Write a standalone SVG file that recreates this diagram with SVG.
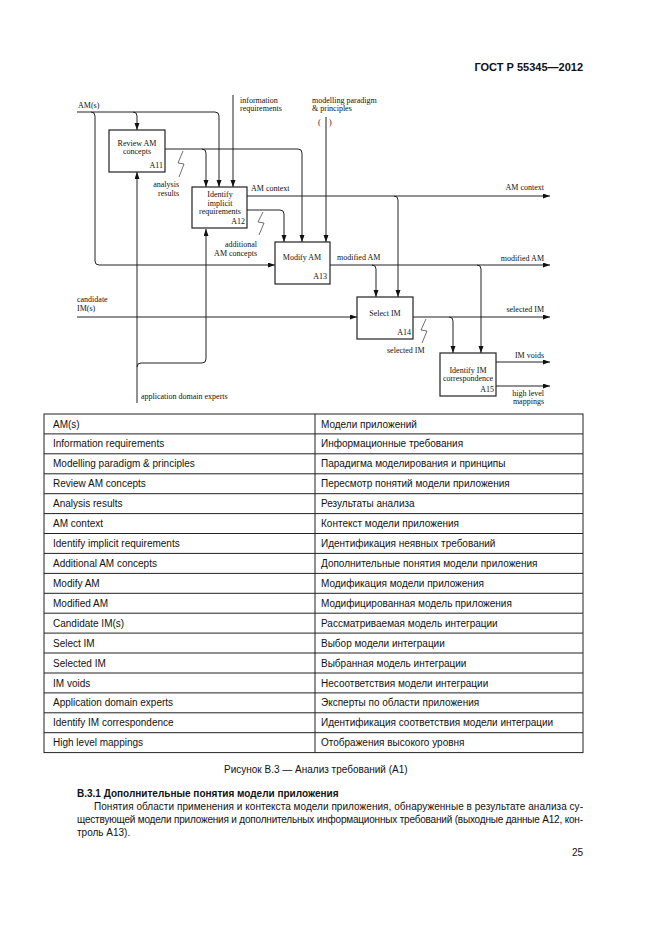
<svg xmlns="http://www.w3.org/2000/svg" width="661" height="935" viewBox="0 0 661 935">
<style>
.bg{fill:#fff}
.box{fill:#fff;stroke:#222;stroke-width:1.2}
.ln{fill:none;stroke:#222;stroke-width:1}
.sq{fill:none;stroke:#333;stroke-width:0.7}
.d{font-family:"Liberation Serif","Times New Roman",serif;font-size:8px;fill:#111}
.c{text-anchor:middle}
.e{text-anchor:end}
.t{font-family:"Liberation Sans",Arial,sans-serif;font-size:10px;fill:#111}
.tb{font-family:"Liberation Sans",Arial,sans-serif;font-size:10px;font-weight:bold;fill:#111}
.grid{stroke:#222;stroke-width:1;fill:none}
</style>
<defs>
<marker id="ar" markerUnits="userSpaceOnUse" markerWidth="8" markerHeight="6" refX="7" refY="2.5" orient="auto">
<path d="M0,0 L7,2.5 L0,5 z" fill="#111"/>
</marker>
</defs>
<rect class="bg" x="0" y="0" width="661" height="935"/>
<text class="tb e" x="583" y="71" style="font-size:11px">ГОСТ Р 55345—2012</text>

<g id="connectors">
<path class="ln" d="M77,112 H215 Q219,112 219,116 V187" marker-end="url(#ar)"/>
<path class="ln" d="M91,112 Q95,112 95,116 V261 Q95,265 99,265 H275" marker-end="url(#ar)"/>
<path class="ln" d="M133,112 Q137,112 137,116 V130" marker-end="url(#ar)"/>
<path class="ln" d="M165,149 H298 Q302,149 302,153 V242" marker-end="url(#ar)"/>
<path class="ln" d="M202,149 Q206,149 206,153 V187" marker-end="url(#ar)"/>
<polyline class="sq" points="183,151 178,163 184,164 179,177"/>
<path class="ln" d="M233,95 V187" marker-end="url(#ar)"/>
<path class="ln" d="M326,117 V242" marker-end="url(#ar)"/>
<path class="ln" d="M247,196 H550" marker-end="url(#ar)"/>
<path class="ln" d="M394,196 Q398,196 398,200 V297" marker-end="url(#ar)"/>
<path class="ln" d="M247,210 H280 Q284,210 284,214 V242" marker-end="url(#ar)"/>
<polyline class="sq" points="263,212 258,222 264,223 259,235"/>
<path class="ln" d="M330,265 H550" marker-end="url(#ar)"/>
<path class="ln" d="M372,265 Q376,265 376,269 V297" marker-end="url(#ar)"/>
<path class="ln" d="M477,265 Q481,265 481,269 V353" marker-end="url(#ar)"/>
<path class="ln" d="M77,317 H357" marker-end="url(#ar)"/>
<path class="ln" d="M413,317 H550" marker-end="url(#ar)"/>
<path class="ln" d="M449,317 Q453,317 453,321 V353" marker-end="url(#ar)"/>
<polyline class="sq" points="426,319 421,330 427,331 422,343"/>
<path class="ln" d="M496,362 H550" marker-end="url(#ar)"/>
<path class="ln" d="M496,386 H550" marker-end="url(#ar)"/>
<path class="ln" d="M137,403 V172" marker-end="url(#ar)"/>
<path class="ln" d="M137,367 Q137,363 141,363 H202 Q206,363 206,359 V229" marker-end="url(#ar)"/>
</g>

<g id="labels">
<text class="d" x="78" y="108">AM(s)</text>
<text class="d" x="240" y="103">information</text>
<text class="d" x="240" y="111">requirements</text>
<text class="d" x="312" y="103">modelling paradigm</text>
<text class="d" x="312" y="111">&amp; principles</text>
<text class="d" x="318" y="125">(</text>
<text class="d" x="329" y="125">)</text>
<text class="d e" x="179" y="187">analysis</text>
<text class="d e" x="179" y="196">results</text>
<text class="d" x="251" y="191">AM context</text>
<text class="d e" x="257" y="247">additional</text>
<text class="d e" x="257" y="256">AM concepts</text>
<text class="d" x="337" y="260">modified AM</text>
<text class="d e" x="544" y="190">AM context</text>
<text class="d e" x="544" y="261">modified AM</text>
<text class="d" x="77" y="302">candidate</text>
<text class="d" x="77" y="311">IM(s)</text>
<text class="d e" x="544" y="312">selected IM</text>
<text class="d" x="387" y="353">selected IM</text>
<text class="d e" x="544" y="358">IM voids</text>
<text class="d e" x="544" y="396">high level</text>
<text class="d e" x="544" y="404">mappings</text>
<text class="d" x="141" y="399">application domain experts</text>
</g>

<g id="A11">
<rect class="box" x="109" y="130" width="56" height="42"/>
<text class="d c" x="137" y="146">Review AM</text>
<text class="d c" x="137" y="154">concepts</text>
<text class="d e" x="163" y="168">A11</text>
</g>
<g id="A12">
<rect class="box" x="192" y="187" width="55" height="41"/>
<text class="d c" x="220" y="197">Identify</text>
<text class="d c" x="220" y="206">implicit</text>
<text class="d c" x="220" y="214">requirements</text>
<text class="d e" x="245" y="224">A12</text>
</g>
<g id="A13">
<rect class="box" x="275" y="242" width="55" height="42"/>
<text class="d c" x="302" y="260">Modify AM</text>
<text class="d e" x="327" y="279">A13</text>
</g>
<g id="A14">
<rect class="box" x="357" y="297" width="56" height="42"/>
<text class="d c" x="385" y="316">Select IM</text>
<text class="d e" x="411" y="335">A14</text>
</g>
<g id="A15">
<rect class="box" x="440" y="353" width="56" height="43"/>
<text class="d c" x="468" y="373">Identify IM</text>
<text class="d c" x="468" y="381">correspondence</text>
<text class="d e" x="494" y="392">A15</text>
</g>

<g id="table">
<rect class="grid" x="44" y="414" width="539" height="338.6"/>
<line class="grid" x1="315" y1="414" x2="315" y2="752.6"/>
<path class="grid" d="M44,433.9H583M44,453.8H583M44,473.8H583M44,493.7H583M44,513.6H583M44,533.5H583M44,553.4H583M44,573.4H583M44,593.3H583M44,613.2H583M44,633.1H583M44,653H583M44,673H583M44,692.9H583M44,712.8H583M44,732.7H583"/>
<text class="t" x="53" y="427.5">AM(s)</text><text class="t" x="321" y="427.5">Модели приложений</text>
<text class="t" x="53" y="447.4">Information requirements</text><text class="t" x="321" y="447.4">Информационные требования</text>
<text class="t" x="53" y="467.3">Modelling paradigm &amp; principles</text><text class="t" x="321" y="467.3">Парадигма моделирования и принципы</text>
<text class="t" x="53" y="487.3">Review AM concepts</text><text class="t" x="321" y="487.3">Пересмотр понятий модели приложения</text>
<text class="t" x="53" y="507.2">Analysis results</text><text class="t" x="321" y="507.2">Результаты анализа</text>
<text class="t" x="53" y="527.1">AM context</text><text class="t" x="321" y="527.1">Контекст модели приложения</text>
<text class="t" x="53" y="547">Identify implicit requirements</text><text class="t" x="321" y="547">Идентификация неявных требований</text>
<text class="t" x="53" y="566.9">Additional AM concepts</text><text class="t" x="321" y="566.9">Дополнительные понятия модели приложения</text>
<text class="t" x="53" y="586.9">Modify AM</text><text class="t" x="321" y="586.9">Модификация модели приложения</text>
<text class="t" x="53" y="606.8">Modified AM</text><text class="t" x="321" y="606.8">Модифицированная модель приложения</text>
<text class="t" x="53" y="626.7">Candidate IM(s)</text><text class="t" x="321" y="626.7">Рассматриваемая модель интеграции</text>
<text class="t" x="53" y="646.6">Select IM</text><text class="t" x="321" y="646.6">Выбор модели интеграции</text>
<text class="t" x="53" y="666.5">Selected IM</text><text class="t" x="321" y="666.5">Выбранная модель интеграции</text>
<text class="t" x="53" y="686.5">IM voids</text><text class="t" x="321" y="686.5">Несоответствия модели интеграции</text>
<text class="t" x="53" y="706.4">Application domain experts</text><text class="t" x="321" y="706.4">Эксперты по области приложения</text>
<text class="t" x="53" y="726.3">Identify IM correspondence</text><text class="t" x="321" y="726.3">Идентификация соответствия модели интеграции</text>
<text class="t" x="53" y="746.2">High level mappings</text><text class="t" x="321" y="746.2">Отображения высокого уровня</text>
</g>

<text class="t" x="224" y="773">Рисунок В.3 — Анализ требований (А1)</text>
<text class="tb" x="77" y="797">В.3.1 Дополнительные понятия модели приложения</text>
<text class="t" x="94" y="809.5" textLength="489" lengthAdjust="spacing">Понятия области применения и контекста модели приложения, обнаруженные в результате анализа су-</text>
<text class="t" x="77" y="822.5" textLength="506" lengthAdjust="spacing">ществующей модели приложения и дополнительных информационных требований (выходные данные А12, кон-</text>
<text class="t" x="77" y="835.5">троль А13).</text>
<text class="t e" x="583" y="856">25</text>
</svg>
